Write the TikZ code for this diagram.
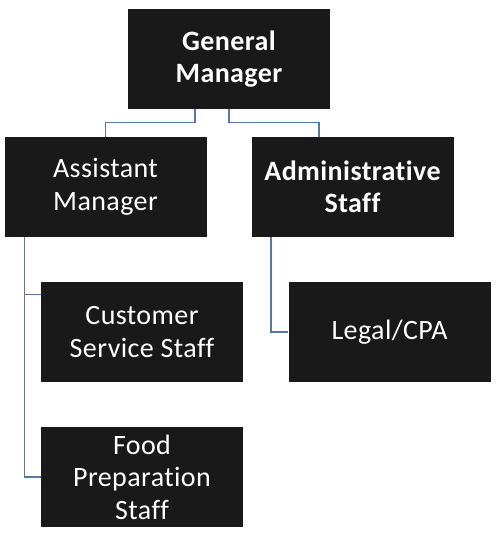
\documentclass[tikz,border=0pt]{standalone}
\usepackage{fontspec}
\setmainfont{Carlito}[Ligatures={NoCommon,NoRequired,NoContextual,NoDiscretionary},LetterSpace=1.5]
\definecolor{boxfill}{RGB}{26,25,25}
\definecolor{linkblue}{RGB}{88,120,170}
\begin{document}
\begin{tikzpicture}[x=1pt,y=1pt,
  orgbox/.style={rectangle, fill=boxfill, draw=none, text=white, minimum width=202pt, minimum height=100pt, inner sep=0pt, align=center, font=\fontsize{28}{32.5}\selectfont},
  link/.style={draw=linkblue, line width=1.2pt}]
\useasboundingbox (0,0) rectangle (501,549);
\node[orgbox] (gm) at (229,490) {\bfseries General\\\bfseries Manager};
\node[orgbox] (am) at (105.5,362) {Assistant\\Manager};
\node[orgbox] (adm) at (352.5,362) {\bfseries Administrative\\\bfseries Staff};
\node[orgbox] (css) at (142,217) {Customer\\Service Staff};
\node[orgbox] (lcpa) at (389.5,217) {Legal/CPA};
\node[orgbox] (fps) at (142,72) {Food\\Preparation\\Staff};
\draw[link] ([xshift=-34pt]gm.south) |- ([yshift=14pt]am.north) -- (am.north);
\draw[link] (gm.south) |- ([xshift=-33.5pt,yshift=14pt]adm.north) -- ([xshift=-33.5pt]adm.north);
\draw[link] ([xshift=20.5pt]am.south west) |- (fps.west);
\draw[link] ([xshift=20.5pt]am.south west) |- ([yshift=-13pt]css.north west);
\draw[link] ([xshift=19.7pt]adm.south west) |- (lcpa.west);
\end{tikzpicture}
\end{document}
